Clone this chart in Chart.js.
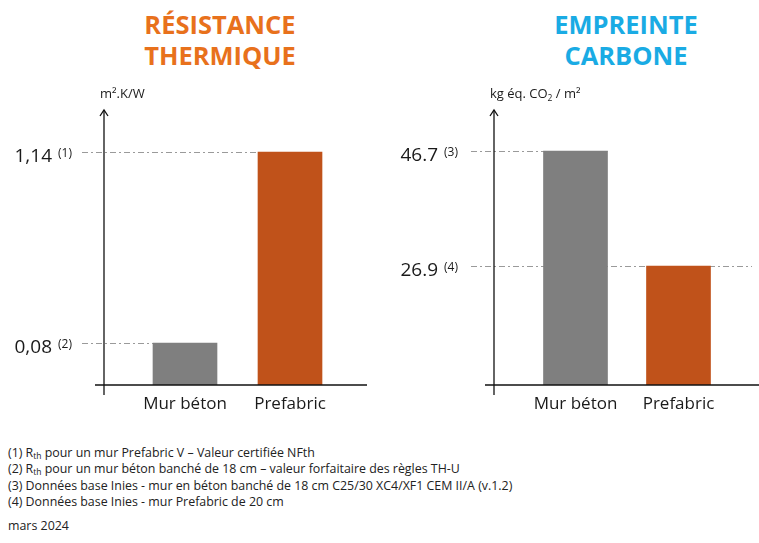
<!DOCTYPE html>
<html>
<head>
<meta charset="utf-8">
<script src="https://cdn.jsdelivr.net/npm/chart.js@4"></script>
<style>
  body { margin: 0; background: #fff; font-family: "Open Sans", sans-serif; color: #222; }
  #page { position: relative; width: 759px; height: 543px; overflow: hidden; }
  .titre { position: absolute; top: 9px; width: 260px; text-align: center; font-weight: 700; font-size: 25.5px; line-height: 31px; }
  canvas { position: absolute; top: 0; }
  #notes { position: absolute; left: 8px; top: 445px; font-size: 12.4px; line-height: 16.3px; }
  #notes sub { font-size: 8.5px; vertical-align: -2px; line-height: 0; }
  #date { position: absolute; left: 8px; top: 517px; font-size: 12.4px; line-height: 18px; }
</style>
</head>
<body>
<div id="page">
  <div class="titre" style="left:90px; color:#e8711c;">RÉSISTANCE<br>THERMIQUE</div>
  <div class="titre" style="left:496px; color:#1aabe4;">EMPREINTE<br>CARBONE</div>
  <canvas id="resistance" width="380" height="430" style="left:0;"></canvas>
  <canvas id="carbone" width="379" height="430" style="left:380px;"></canvas>
  <div id="notes">
    (1) R<sub>th</sub> pour un mur Prefabric V – Valeur certifiée NFth<br>
    (2) R<sub>th</sub> pour un mur béton banché de 18 cm – valeur forfaitaire des règles TH-U<br>
    (3) Données base Inies - mur en béton banché de 18 cm C25/30 XC4/XF1 CEM II/A (v.1.2)<br>
    (4) Données base Inies - mur Prefabric de 20 cm
  </div>
  <div id="date">mars 2024</div>
</div>
<script>
const categories = ['Mur béton', 'Prefabric'];
const resistance = [0.08, 1.14];
const resistanceLabels = ['0,08', '1,14'];
const resistanceNotes = ['(2)', '(1)'];
const carbone = [46.7, 26.9];
const carboneLabels = ['46.7', '26.9'];
const carboneNotes = ['(3)', '(4)'];
const barColors = ['#7f7f7f', '#c0521a'];

const FONT = '"Open Sans", sans-serif';

// axes en fleche, lignes de repere, libelles de valeurs
const decor = {
  id: 'decor',
  beforeDatasetsDraw(chart, args, o) {
    const ctx = chart.ctx;
    const y = chart.scales.y;
    const meta = chart.getDatasetMeta(0);
    ctx.save();
    ctx.strokeStyle = '#9a9a9a';
    ctx.lineWidth = 1;
    ctx.setLineDash([6, 3, 2, 3]);
    chart.data.datasets[0].data.forEach((v, i) => {
      const py = Math.round(y.getPixelForValue(v)) + 0.5;
      const bar = meta.data[i];
      const end = o.lineEnds[i] === 'bar' ? bar.x + bar.width / 2 : o.lineEnds[i];
      ctx.beginPath();
      ctx.moveTo(o.lineStart, py);
      ctx.lineTo(end, py);
      ctx.stroke();
    });
    ctx.restore();
  },
  afterDatasetsDraw(chart, args, o) {
    const ctx = chart.ctx;
    const y = chart.scales.y, x = chart.scales.x;
    const area = chart.chartArea;
    const base = y.getPixelForValue(y.min);
    ctx.save();
    ctx.strokeStyle = '#111';
    ctx.lineWidth = 1.3;
    // axe horizontal
    ctx.beginPath();
    ctx.moveTo(o.axisX - 9, base);
    ctx.lineTo(o.xAxisEnd, base);
    ctx.stroke();
    // axe vertical + fleche
    ctx.beginPath();
    ctx.moveTo(o.axisX, base + 10);
    ctx.lineTo(o.axisX, area.top);
    ctx.stroke();
    ctx.beginPath();
    ctx.moveTo(o.axisX - 4, area.top + 6);
    ctx.lineTo(o.axisX, area.top);
    ctx.lineTo(o.axisX + 4, area.top + 6);
    ctx.stroke();

    // libelles des valeurs
    ctx.fillStyle = '#1a1a1a';
    chart.data.datasets[0].data.forEach((v, i) => {
      const py = y.getPixelForValue(v);
      ctx.font = '19px ' + FONT;
      ctx.textAlign = 'right';
      ctx.textBaseline = 'alphabetic';
      ctx.fillText(o.valueLabels[i], o.labelRight, py + 10);
      ctx.font = '12px ' + FONT;
      ctx.textAlign = 'left';
      ctx.fillText(o.notes[i], o.labelRight + 6, py + 5);
    });

    // categories
    ctx.font = '17px ' + FONT;
    ctx.textAlign = 'center';
    ctx.fillStyle = '#1a1a1a';
    chart.data.labels.forEach((lab, i) => {
      ctx.fillText(lab, x.getPixelForValue(i), base + 24);
    });

    // unite
    ctx.textAlign = 'left';
    let ux = o.axisX - 4;
    o.unit.forEach(part => {
      ctx.font = (part.sub ? '8.5px ' : '13px ') + FONT;
      ctx.fillText(part.t, ux, part.sub ? 101 : 98);
      ux += ctx.measureText(part.t).width;
    });
    ctx.restore();
  }
};

function makeChart(id, values, yMin, yMax, pad, opts) {
  return new Chart(document.getElementById(id), {
    type: 'bar',
    data: {
      labels: categories,
      datasets: [{
        data: values,
        backgroundColor: barColors,
        base: yMin,
        barThickness: 64
      }]
    },
    options: {
      responsive: false,
      animation: false,
      layout: { padding: pad },
      plugins: { legend: { display: false }, tooltip: { enabled: false }, decor: opts },
      scales: {
        x: { display: false },
        y: { display: false, min: yMin, max: yMax }
      }
    },
    plugins: [decor]
  });
}

makeChart('resistance', resistance, -0.153, 1.373,
  { left: 132.5, right: 37.5, top: 110, bottom: 45 },
  {
    axisX: 104, xAxisEnd: 367, lineStart: 82, lineEnds: ['bar', 'bar'],
    labelRight: 52, valueLabels: resistanceLabels, notes: resistanceNotes,
    unit: [{ t: 'm².K/W' }]
  });

makeChart('carbone', carbone, 6.4, 53.76,
  { left: 144, right: 29, top: 110, bottom: 45 },
  {
    axisX: 114, xAxisEnd: 379, lineStart: 91, lineEnds: ['bar', 372],
    labelRight: 58, valueLabels: carboneLabels, notes: carboneNotes,
    unit: [{ t: 'kg éq. CO' }, { t: '2', sub: true }, { t: ' / m²' }]
  });
</script>
</body>
</html>
